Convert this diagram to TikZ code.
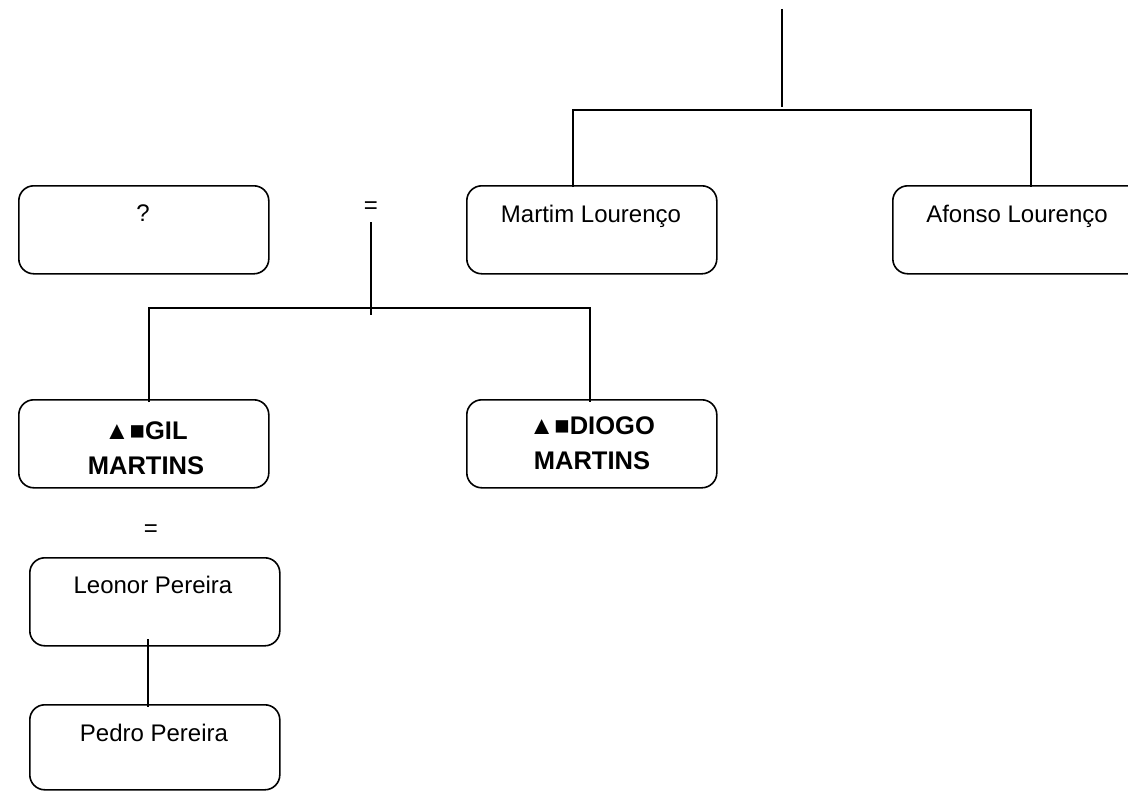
\documentclass[tikz,border=0pt]{standalone}
\usepackage{fontspec}
\setmainfont{Liberation Sans}
\begin{document}
\begin{tikzpicture}[x=1pt,y=-1pt,
  person/.style={draw, line width=1.6pt, rounded corners=15pt,
    minimum width=250pt, minimum height=88pt, inner sep=0pt,
    anchor=north west},
  pname/.style={font=\fontsize{24}{32}\selectfont, inner sep=0pt, anchor=base},
  pbold/.style={font=\fontsize{25.5}{35}\selectfont\bfseries, inner sep=0pt,
    anchor=center, align=center},
  link/.style={line width=1.6pt}]
\useasboundingbox (0,0) rectangle (1128,792);

% person boxes
\node[person] (unknown) at (18,185) {};
\node[person] (martim)  at (466,185) {};
\node[person] (afonso)  at (892,185) {};
\node[person] (gil)     at (18,399) {};
\node[person] (diogo)   at (466,399) {};
\node[person] (leonor)  at (29,557) {};
\node[person, minimum height=85pt] (pedro) at (29,704) {};

% names (placed by baseline)
\node[pname] (tunknown) at (143,221) {?};
\node[pname] (tmartim)  at (591,222) {Martim Lourenço};
\node[pname] (tafonso)  at (1017,222) {Afonso Lourenço};
\node[pbold] (tgil)     at (146,448) {▲■GIL\\MARTINS};
\node[pbold] (tdiogo)   at (592,443) {▲■DIOGO\\MARTINS};
\node[pname] (tleonor)  at (153,593) {Leonor Pereira};
\node[pname] (tpedro)   at (154,741) {Pedro Pereira};

% marriage signs
\node[pname] (eq1) at (371,213) {=};
\node[pname] (eq2) at (151,536) {=};

% parents of Martim and Afonso
\coordinate (root)  at (782,9);
\coordinate (rootb) at (782,107);
\coordinate (barL)  at (573,110);
\coordinate (barR)  at (1031,110);
\draw[link] (root) -- (rootb);
\draw[link] ([yshift=-2pt]barL |- martim.north) -- (barL) -- (barR) -- ([yshift=-2pt]barR |- afonso.north);

% children of the first marriage
\coordinate (m1top) at (371,222);
\coordinate (m1bot) at (371,315);
\coordinate (kidL)  at (149,308);
\coordinate (kidR)  at (590,308);
\draw[link] (m1top) -- (m1bot);
\draw[link] ([yshift=-3pt]kidL |- gil.north) -- (kidL) -- (kidR) -- ([yshift=-3pt]kidR |- diogo.north);

% Leonor to Pedro
\coordinate (lp) at (148,639);
\draw[link] (lp) -- ([yshift=-3pt]lp |- pedro.north);
\end{tikzpicture}
\end{document}
